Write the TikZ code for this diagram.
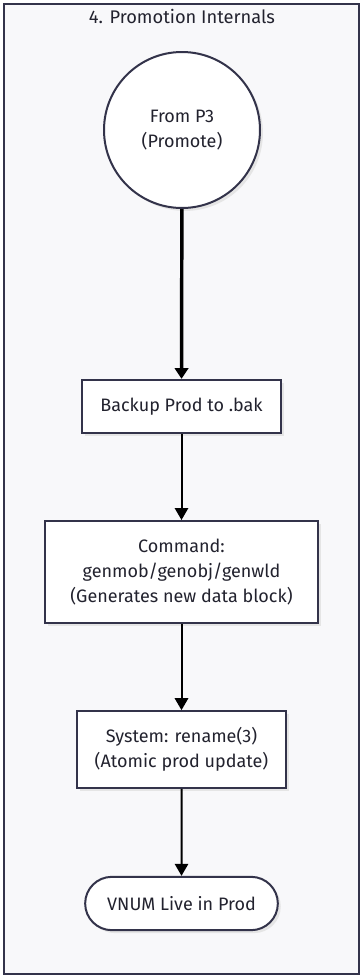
\documentclass[tikz,border=0pt]{standalone}
\usepackage{fontspec}
\setmainfont{Fira Sans}
\usetikzlibrary{arrows.meta,shapes.misc,shadows}
\definecolor{frame}{HTML}{33334A}
\definecolor{bgc}{HTML}{F8F8FA}
\definecolor{txt}{HTML}{22222E}
\tikzset{
  px/.style={x=0.75pt,y=-0.75pt},
  box/.style={draw=frame,line width=1.5pt,fill=white,text=txt,align=center,font=\fontsize{13.5}{18.8}\selectfont,
    inner sep=0pt,drop shadow={shadow xshift=2.2pt,shadow yshift=-2.2pt,fill=black!10,opacity=1}},
  conn/.style={draw=black,line width=1.5pt,-{Triangle[length=9pt,width=10pt]}},
}
\begin{document}
\begin{tikzpicture}[px]
\useasboundingbox (0,0) rectangle (364,979);
\fill[white] (0,0) rectangle (364,979);
\draw[draw=frame,fill=bgc,line width=1.5pt] (4,4) rectangle (359,974);
\node[text=txt,font=\fontsize{13.7}{16}\selectfont] (title) at (182,16) {4. Promotion Internals};
\node[box,circle,minimum size=117pt] (start) at (182,130) {From P3\\(Promote)};
\node[box,rectangle,minimum width=149pt,minimum height=40pt] (b1) at (181.5,406.5) {Backup Prod to .bak};
\node[box,rectangle,minimum width=204.5pt,minimum height=76.5pt] (b2) at (181.5,572) {Command:\\genmob/genobj/genwld\\(Generates new data block)};
\node[box,rectangle,minimum width=156.5pt,minimum height=57.5pt] (b3) at (181.5,749.5) {System: rename(3)\\(Atomic prod update)};
\node[box,rounded rectangle,minimum width=144.5pt,minimum height=40pt] (end) at (181.5,903.5) {VNUM Live in Prod};
\draw[conn,line width=2.6pt,-{Triangle[length=8pt,width=10pt]}] (start) -- (b1);
\draw[conn] (b1) -- (b2);
\draw[conn] (b2) -- (b3);
\draw[conn] (b3) -- (end);
\end{tikzpicture}
\end{document}
